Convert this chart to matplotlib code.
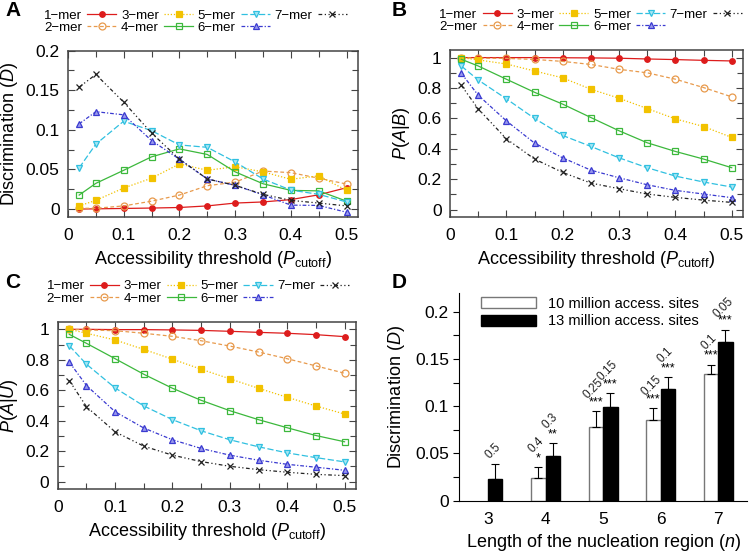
import numpy as np
import matplotlib
matplotlib.use("Agg")
import matplotlib.pyplot as plt
from matplotlib.ticker import MultipleLocator, FuncFormatter

plt.rcParams['font.family'] = ['Liberation Sans', 'DejaVu Sans']
plt.rcParams['mathtext.fontset'] = 'custom'
plt.rcParams['mathtext.rm'] = 'Liberation Sans'
plt.rcParams['mathtext.it'] = 'Liberation Sans:italic'

# ---------------- data ----------------
thresholds = [0.02, 0.05, 0.1, 0.15, 0.2, 0.25, 0.3, 0.35, 0.4, 0.45, 0.5]
series_names = ['1\u2212mer', '2\u2212mer', '3\u2212mer', '4\u2212mer', '5\u2212mer', '6\u2212mer', '7\u2212mer']

# Panel A: discrimination D
disc_1mer = [0.0, 0.0003, 0.0008, 0.0013, 0.002, 0.004, 0.0076, 0.009, 0.012, 0.018, 0.027]
disc_2mer = [0.001, 0.001, 0.004, 0.010, 0.0177, 0.0295, 0.034, 0.048, 0.046, 0.039, 0.0316]
disc_3mer = [0.004, 0.011, 0.0266, 0.039, 0.057, 0.049, 0.0535, 0.047, 0.0376, 0.042, 0.0236]
disc_4mer = [0.0177, 0.0325, 0.049, 0.066, 0.076, 0.069, 0.047, 0.032, 0.0236, 0.023, 0.010]
disc_5mer = [0.052, 0.082, 0.111, 0.099, 0.081, 0.078, 0.0595, 0.038, 0.024, 0.0186, 0.009]
disc_6mer = [0.1076, 0.123, 0.119, 0.0865, 0.063, 0.038, 0.030, 0.018, 0.005, 0.0046, -0.004]
disc_7mer = [0.154, 0.170, 0.135, 0.096, 0.063, 0.038, 0.030, 0.0186, 0.011, 0.0076, 0.004]

# Panel B: P(A|B)
pab_1mer = [1.0, 1.0, 1.0, 1.0, 0.999, 0.998, 0.996, 0.991, 0.987, 0.982, 0.978]
pab_2mer = [1.0, 0.996, 0.995, 0.988, 0.975, 0.955, 0.923, 0.90, 0.858, 0.803, 0.742]
pab_3mer = [1.0, 0.985, 0.958, 0.912, 0.867, 0.792, 0.733, 0.665, 0.597, 0.547, 0.475]
pab_4mer = [0.989, 0.945, 0.858, 0.772, 0.694, 0.606, 0.519, 0.44, 0.383, 0.333, 0.276]
pab_5mer = [0.945, 0.853, 0.729, 0.60, 0.488, 0.416, 0.341, 0.276, 0.221, 0.182, 0.149]
pab_6mer = [0.897, 0.753, 0.584, 0.438, 0.341, 0.26, 0.21, 0.164, 0.127, 0.103, 0.079]
pab_7mer = [0.818, 0.663, 0.466, 0.333, 0.245, 0.175, 0.138, 0.103, 0.081, 0.063, 0.048]

# Panel C: P(A|U)
pau_1mer = [1.0, 1.0, 0.998, 0.998, 0.996, 0.993, 0.987, 0.980, 0.974, 0.965, 0.952]
pau_2mer = [1.0, 0.996, 0.991, 0.974, 0.954, 0.925, 0.89, 0.851, 0.807, 0.760, 0.712]
pau_3mer = [1.0, 0.974, 0.930, 0.868, 0.804, 0.738, 0.675, 0.613, 0.554, 0.497, 0.444]
pau_4mer = [0.967, 0.908, 0.807, 0.705, 0.613, 0.534, 0.466, 0.407, 0.354, 0.303, 0.262]
pau_5mer = [0.892, 0.771, 0.615, 0.497, 0.407, 0.334, 0.275, 0.229, 0.189, 0.158, 0.130]
pau_6mer = [0.785, 0.631, 0.459, 0.352, 0.275, 0.218, 0.174, 0.141, 0.114, 0.095, 0.075]
pau_7mer = [0.664, 0.492, 0.327, 0.233, 0.174, 0.132, 0.101, 0.079, 0.062, 0.048, 0.040]

# Panel D
nuc_lengths = [3, 4, 5, 6, 7]
bar_10m = [np.nan, 0.0237, 0.0776, 0.0853, 0.1336]
err_10m = [np.nan, 0.0116, 0.0169, 0.0130, 0.0104]
bar_13m = [0.0229, 0.047, 0.099, 0.118, 0.168]
err_13m = [0.016, 0.014, 0.015, 0.013, 0.013]
stars_10m = ['', '*', '***', '***', '***']
pcut_10m = ['', '0.4', '0.25', '0.15', '0.1']
stars_13m = ['', '**', '***', '***', '***']
pcut_13m = ['0.5', '0.3', '0.15', '0.1', '0.05']
legend_D = ['10 million access. sites', '13 million access. sites']

# ---------------- styles ----------------
styles = [
    dict(color='#dd1c1c', marker='o', mfc='#dd1c1c', ms=4, ls='-'),
    dict(color='#e89a4c', marker='o', mfc='none', ms=5, ls=(0, (3, 2))),
    dict(color='#f2c200', marker='s', mfc='#f2c200', ms=4.5, ls=(0, (1, 1.5))),
    dict(color='#3cb83c', marker='s', mfc='none', ms=5, ls='-'),
    dict(color='#30c0e0', marker='v', mfc='#a8e6f4', ms=5, ls=(0, (5, 2))),
    dict(color='#3a3ad0', marker='^', mfc='#9a9aec', ms=5, ls=(0, (3, 1.5, 1, 1.5))),
    dict(color='#222222', marker='x', mfc='none', ms=5, ls=(0, (3, 2, 1, 2, 1, 2))),
]

W, H = 749, 554
fig = plt.figure(figsize=(W / 100, H / 100), dpi=100)

def fpos(l, r, t, b):
    return [l / W, 1 - b / H, (r - l) / W, (b - t) / H]

fmt = FuncFormatter(lambda v, p: '%g' % round(v, 4))
spine_col = '#444444'

def line_panel(rect, data, ylim, ymaj, ymin, ylabel, letter, letter_xy, leg_x):
    ax = fig.add_axes(rect)
    for i, ys in enumerate(data):
        st = styles[i]
        ax.plot(thresholds, ys, color=st['color'], marker=st['marker'], mfc=st['mfc'],
                mec=st['color'], ms=st['ms'], ls=st['ls'], lw=0.9, mew=0.9,
                label=series_names[i])
    ax.set_xlim(0, 0.52)
    ax.set_ylim(*ylim)
    ax.xaxis.set_major_locator(MultipleLocator(0.1))
    ax.xaxis.set_minor_locator(MultipleLocator(0.05))
    ax.yaxis.set_major_locator(MultipleLocator(ymaj))
    ax.yaxis.set_minor_locator(MultipleLocator(ymin))
    ax.xaxis.set_major_formatter(fmt)
    ax.yaxis.set_major_formatter(fmt)
    ax.tick_params(which='both', direction='in', top=True, right=True, color=spine_col,
                   labelsize=12.5)
    ax.tick_params(which='major', length=5, width=0.8)
    ax.tick_params(which='minor', length=4, width=0.8)
    ax.tick_params(axis='x', which='major', pad=8)
    ax.tick_params(axis='y', which='major', pad=6)
    for s in ax.spines.values():
        s.set_color(spine_col)
        s.set_linewidth(1.1)
    ax.set_xlabel('Accessibility threshold ($P_{\\rm cutoff}$)', fontsize=13, labelpad=4)
    ax.set_ylabel(ylabel, fontsize=13, labelpad=4)
    ax.legend(ncol=4, loc='lower center', bbox_to_anchor=(leg_x, 1.062), frameon=False,
              markerfirst=False, fontsize=9.5, handlelength=2.2, handletextpad=0.4,
              columnspacing=0.35, labelspacing=0.0, borderpad=0.0)
    fig.text(letter_xy[0] / W, 1 - letter_xy[1] / H, letter, fontsize=15, fontweight='bold',
             ha='left', va='center')
    return ax

line_panel(fpos(68, 357.7, 50.7, 217),
           [disc_1mer, disc_2mer, disc_3mer, disc_4mer, disc_5mer, disc_6mer, disc_7mer],
           (-0.01, 0.2), 0.05, 0.025, 'Discrimination ($\\mathit{D}$)', 'A', (5, 10), 0.44)
line_panel(fpos(450, 743, 50, 217.3),
           [pab_1mer, pab_2mer, pab_3mer, pab_4mer, pab_5mer, pab_6mer, pab_7mer],
           (-0.05, 1.05), 0.2, 0.1, '$P$($A$|$B$)', 'B', (392, 10), 0.48)
line_panel(fpos(57.8, 356, 321.7, 489.3),
           [pau_1mer, pau_2mer, pau_3mer, pau_4mer, pau_5mer, pau_6mer, pau_7mer],
           (-0.05, 1.05), 0.2, 0.1, '$P$($A$|$U$)', 'C', (5, 283), 0.47)

# ---------------- Panel D ----------------
axd = fig.add_axes(fpos(459.3, 747, 292.7, 500.7))
xs = np.array(nuc_lengths, dtype=float)
bw = 0.25
axd.bar(xs - bw / 2, bar_10m, width=bw, color='white', edgecolor='#777777', lw=1.0,
        label=legend_D[0])
axd.bar(xs + bw / 2, bar_13m, width=bw, color='black', edgecolor='black', lw=1.0,
        label=legend_D[1])
axd.errorbar(xs - bw / 2, bar_10m, yerr=[np.zeros(5), err_10m], fmt='none', ecolor='black',
             elinewidth=0.8, capsize=3, capthick=0.8)
axd.errorbar(xs + bw / 2, bar_13m, yerr=[np.zeros(5), err_13m], fmt='none', ecolor='black',
             elinewidth=0.8, capsize=3, capthick=0.8)

def annotate(x, top, stars, pc):
    if np.isnan(top):
        return
    if stars:
        axd.annotate(stars, (x, top), xytext=(0, 2), textcoords='offset points',
                     ha='center', va='bottom', fontsize=9)
        off = 16
    else:
        off = 9
    if pc:
        axd.annotate(pc, (x - 0.04, top), xytext=(0, off), textcoords='offset points',
                     ha='center', va='center', fontsize=8.5, rotation=45,
                     rotation_mode='anchor', color='#222222')

for i in range(5):
    annotate(xs[i] - bw / 2, bar_10m[i] + err_10m[i], stars_10m[i], pcut_10m[i])
    annotate(xs[i] + bw / 2, bar_13m[i] + err_13m[i], stars_13m[i], pcut_13m[i])

axd.set_xlim(2.5, 7.5)
axd.set_ylim(0, 0.22)
axd.set_xticks(nuc_lengths)
axd.yaxis.set_major_locator(MultipleLocator(0.05))
axd.yaxis.set_minor_locator(MultipleLocator(0.025))
axd.yaxis.set_major_formatter(fmt)
axd.spines['top'].set_visible(False)
axd.spines['right'].set_visible(False)
axd.tick_params(axis='y', which='both', direction='out', length=4, width=0.8, labelsize=12.5)
axd.tick_params(axis='x', which='both', length=0, labelsize=12.5, pad=8)
axd.set_xlabel('Length of the nucleation region ($n$)', fontsize=13, labelpad=4)
axd.set_ylabel('Discrimination ($D$)', fontsize=13, labelpad=6)
axd.legend(loc='upper left', bbox_to_anchor=(0.04, 1.03), frameon=False, fontsize=10.5,
           handlelength=3.8, handleheight=0.8, handletextpad=0.8, labelspacing=0.25,
           borderpad=0.2)
fig.text(392 / W, 1 - 282 / H, 'D', fontsize=15, fontweight='bold', ha='left', va='center')

fig.savefig('out.png', dpi=100)
